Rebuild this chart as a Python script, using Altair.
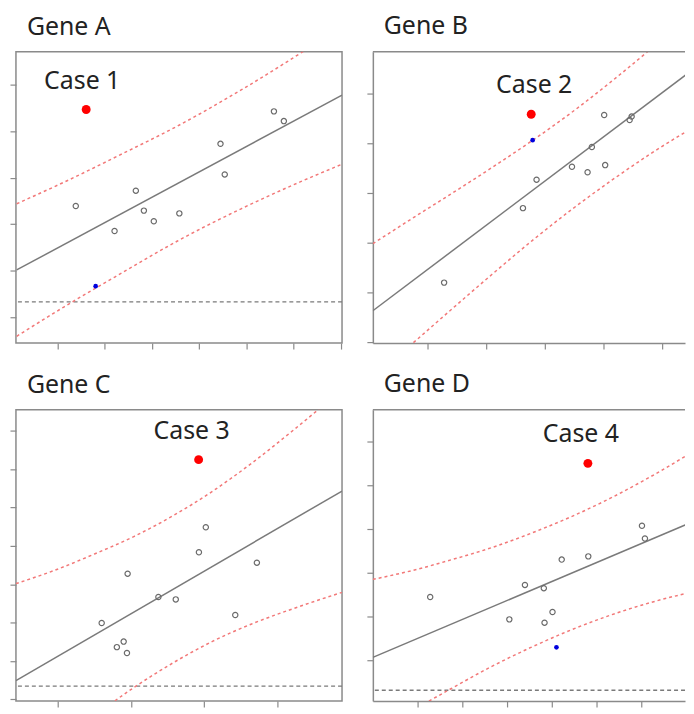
import altair as alt
import pandas as pd

# ---------------- data ----------------
# Gene A
a_pts_x = [1.39, 2.21, 2.66, 2.83, 3.04, 3.58, 4.45, 4.54, 5.58, 5.79]
a_pts_y = [3.39, 2.85, 3.72, 3.29, 3.06, 3.23, 4.73, 4.07, 5.43, 5.22]
a_case = [1.61, 5.47]
a_blue = [1.81, 1.66]
a_fit_x = [0.14, 7.02]
a_fit_y = [2.01, 5.78]
a_band_x = [0.14, 1.146, 2.396, 3.54, 4.896, 6.146, 7.02]
a_band_hi = [3.437, 3.905, 4.527, 5.113, 5.897, 6.687, 7.273]
a_band_lo = [0.580, 1.216, 1.964, 2.634, 3.334, 3.914, 4.290]
a_ref = 1.32

# Gene B
b_pts_x = [1.283, 2.627, 2.859, 3.463, 3.729, 3.802, 4.029, 4.012, 4.446, 4.480]
b_pts_y = [1.197, 2.695, 3.268, 3.529, 3.418, 3.926, 3.561, 4.570, 4.467, 4.537]
b_case = [2.768, 4.584]
b_blue = [2.792, 4.0625]
b_fit_x = [0.068, 5.559]
b_fit_y = [0.631, 5.514]
b_band_x = [0.068, 0.746, 1.424, 2.102, 2.780, 3.458, 4.136, 4.814, 5.559]
b_band_hi = [1.979, 2.494, 2.998, 3.514, 4.049, 4.621, 5.244, 5.906, 6.686]
b_band_lo = [-0.717, -0.025, 0.674, 1.365, 2.037, 2.668, 3.252, 3.797, 4.342]

# Gene C
c_pts_x = [1.603, 1.810, 1.903, 1.948, 1.957, 2.377, 2.614, 2.930, 3.024, 3.426, 3.721]
c_pts_y = [1.985, 1.356, 1.501, 1.204, 3.275, 2.664, 2.603, 3.835, 4.486, 2.196, 3.562]
c_case = [2.926, 6.252]
c_fit_x = [0.433, 4.883]
c_fit_y = [0.483, 5.433]
c_band_x = [0.433, 0.969, 1.505, 2.041, 2.578, 3.114, 3.650, 4.186, 4.883]
c_band_hi = [3.015, 3.369, 3.789, 4.244, 4.789, 5.425, 6.160, 6.972, 8.079]
c_band_lo = [-2.048, -1.211, -0.435, 0.300, 0.947, 1.506, 1.962, 2.341, 2.786]
c_ref = 0.338

# Gene D
d_pts_x = [1.282, 3.051, 3.400, 3.822, 3.838, 4.016, 4.222, 4.816, 6.016, 6.082]
d_pts_y = [2.444, 1.931, 2.719, 2.645, 1.855, 2.100, 3.299, 3.373, 4.074, 3.783]
d_case = [4.807, 5.502]
d_blue = [4.104, 1.290]
d_fit_x = [0.0, 7.178]
d_fit_y = [1.060, 4.176]
d_band_x = [0.0, 0.867, 1.756, 2.644, 3.533, 4.422, 5.311, 6.2, 7.178]
d_band_hi = [2.846, 3.045, 3.295, 3.569, 3.900, 4.275, 4.705, 5.192, 5.783]
d_band_lo = [-0.725, -0.170, 0.348, 0.846, 1.288, 1.685, 2.027, 2.313, 2.569]
d_ref = 0.308

titles = ["Gene A", "Gene B", "Gene C", "Gene D"]
case_labels = ["Case 1", "Case 2", "Case 3", "Case 4"]

# ---------------- styling ----------------
GREY = "#8a8a8a"
LINE_GREY = "#7a7a7a"
BAND_RED = "#f27878"
FONT = "Noto Sans"


def panel(title, label, pts_x, pts_y, case, fit_x, fit_y, band_x, hi, lo,
          xdom, ydom, xticks, yticks, w, h, blue=None, ref=None,
          full_frame=True, label_dx=0):
    xsc = alt.Scale(domain=xdom, nice=False, zero=False)
    ysc = alt.Scale(domain=ydom, nice=False, zero=False)
    common = dict(labels=False, title=None, grid=False, ticks=True,
                  tickSize=6, tickColor=GREY, tickWidth=1.2,
                  domain=not full_frame, domainColor=GREY, domainWidth=1.5,
                  minExtent=0)
    xax = alt.Axis(values=xticks, **common)
    yax = alt.Axis(values=yticks, **common)
    X = alt.X("x:Q", scale=xsc, axis=xax)
    Y = alt.Y("y:Q", scale=ysc, axis=yax)

    layers = []
    if ref is not None:
        layers.append(
            alt.Chart(pd.DataFrame({"y": [ref]}))
            .mark_rule(color=LINE_GREY, strokeWidth=1.3, strokeDash=[4, 3])
            .encode(y=Y)
        )
    band_df = pd.DataFrame({
        "x": band_x + band_x,
        "y": hi + lo,
        "band": ["upper"] * len(band_x) + ["lower"] * len(band_x),
    })
    layers.append(
        alt.Chart(band_df)
        .mark_line(color=BAND_RED, strokeWidth=1.5, strokeDash=[3, 3],
                   clip=True, interpolate="monotone")
        .encode(x=X, y=Y, detail="band:N")
    )
    layers.append(
        alt.Chart(pd.DataFrame({"x": fit_x, "y": fit_y}))
        .mark_line(color=LINE_GREY, strokeWidth=1.5, clip=True)
        .encode(x=X, y=Y)
    )
    layers.append(
        alt.Chart(pd.DataFrame({"x": pts_x, "y": pts_y}))
        .mark_point(shape="circle", filled=False, size=28, color="#6a6a6a",
                    strokeWidth=1.2, opacity=1)
        .encode(x=X, y=Y)
    )
    if blue is not None:
        layers.append(
            alt.Chart(pd.DataFrame({"x": [blue[0]], "y": [blue[1]]}))
            .mark_circle(size=22, color="#0000dd", opacity=1)
            .encode(x=X, y=Y)
        )
    case_df = pd.DataFrame({"x": [case[0]], "y": [case[1]], "label": [label]})
    layers.append(
        alt.Chart(case_df)
        .mark_circle(size=80, color="#ff0000", opacity=1)
        .encode(x=X, y=Y)
    )
    layers.append(
        alt.Chart(case_df)
        .mark_text(font=FONT, fontSize=25, color="#222222", align="center",
                   baseline="alphabetic", dy=-21, dx=label_dx)
        .encode(x=X, y=Y, text="label:N")
    )
    if not full_frame:
        layers.append(
            alt.Chart(pd.DataFrame({"k": [0]}))
            .mark_rule(color=GREY, strokeWidth=1.5)
            .encode(x=alt.value(0), x2=alt.value(w), y=alt.value(0))
        )
    view = (alt.ViewBackground(stroke=GREY, strokeWidth=1.5) if full_frame
            else alt.ViewBackground(strokeOpacity=0))
    return alt.layer(*layers).properties(
        width=w, height=h,
        title=alt.TitleParams(text=title, anchor="start", frame="group",
                              dx=11, offset=12, fontSize=25, font=FONT,
                              fontWeight="normal", color="#222222"),
        view=view,
    )


WL, WR, H = 328, 314, 293

pa = panel(titles[0], case_labels[0], a_pts_x, a_pts_y, a_case, a_fit_x, a_fit_y,
           a_band_x, a_band_hi, a_band_lo, [0.125, 7.02], [0.433, 6.714],
           [1, 2, 3, 4, 5, 6, 7], [1, 2, 3, 4, 5, 6], WL, H,
           blue=a_blue, ref=a_ref, full_frame=True, label_dx=-4)
pb = panel(titles[1], case_labels[1], b_pts_x, b_pts_y, b_case, b_fit_x, b_fit_y,
           b_band_x, b_band_hi, b_band_lo, [0.068, 5.39], [-0.02, 5.84],
           [1, 2, 3, 4, 5], [0, 1, 2, 3, 4, 5], WR, H,
           blue=b_blue, full_frame=False, label_dx=3)
pc = panel(titles[2], case_labels[2], c_pts_x, c_pts_y, c_case, c_fit_x, c_fit_y,
           c_band_x, c_band_hi, c_band_lo, [0.433, 4.883], [-0.05, 7.557],
           [1, 2, 3, 4], [0, 1, 2, 3, 4, 5, 6, 7], WL, H,
           ref=c_ref, full_frame=True, label_dx=-7)
pd_ = panel(titles[3], case_labels[3], d_pts_x, d_pts_y, d_case, d_fit_x, d_fit_y,
            d_band_x, d_band_hi, d_band_lo, [0.0, 6.978], [0.0625, 6.73],
            [1, 2, 3, 4, 5, 6], [1, 2, 3, 4, 5, 6], WR, H,
            blue=d_blue, ref=d_ref, full_frame=False, label_dx=-7)

chart = alt.vconcat(
    alt.hconcat(pa, pb, spacing=22),
    alt.hconcat(pc, pd_, spacing=22),
    spacing=21,
).properties(padding={"top": 4, "left": 0, "right": 0, "bottom": 0},
             background="white")

chart.save("out.html", embed_options={"renderer": "svg", "actions": False})
